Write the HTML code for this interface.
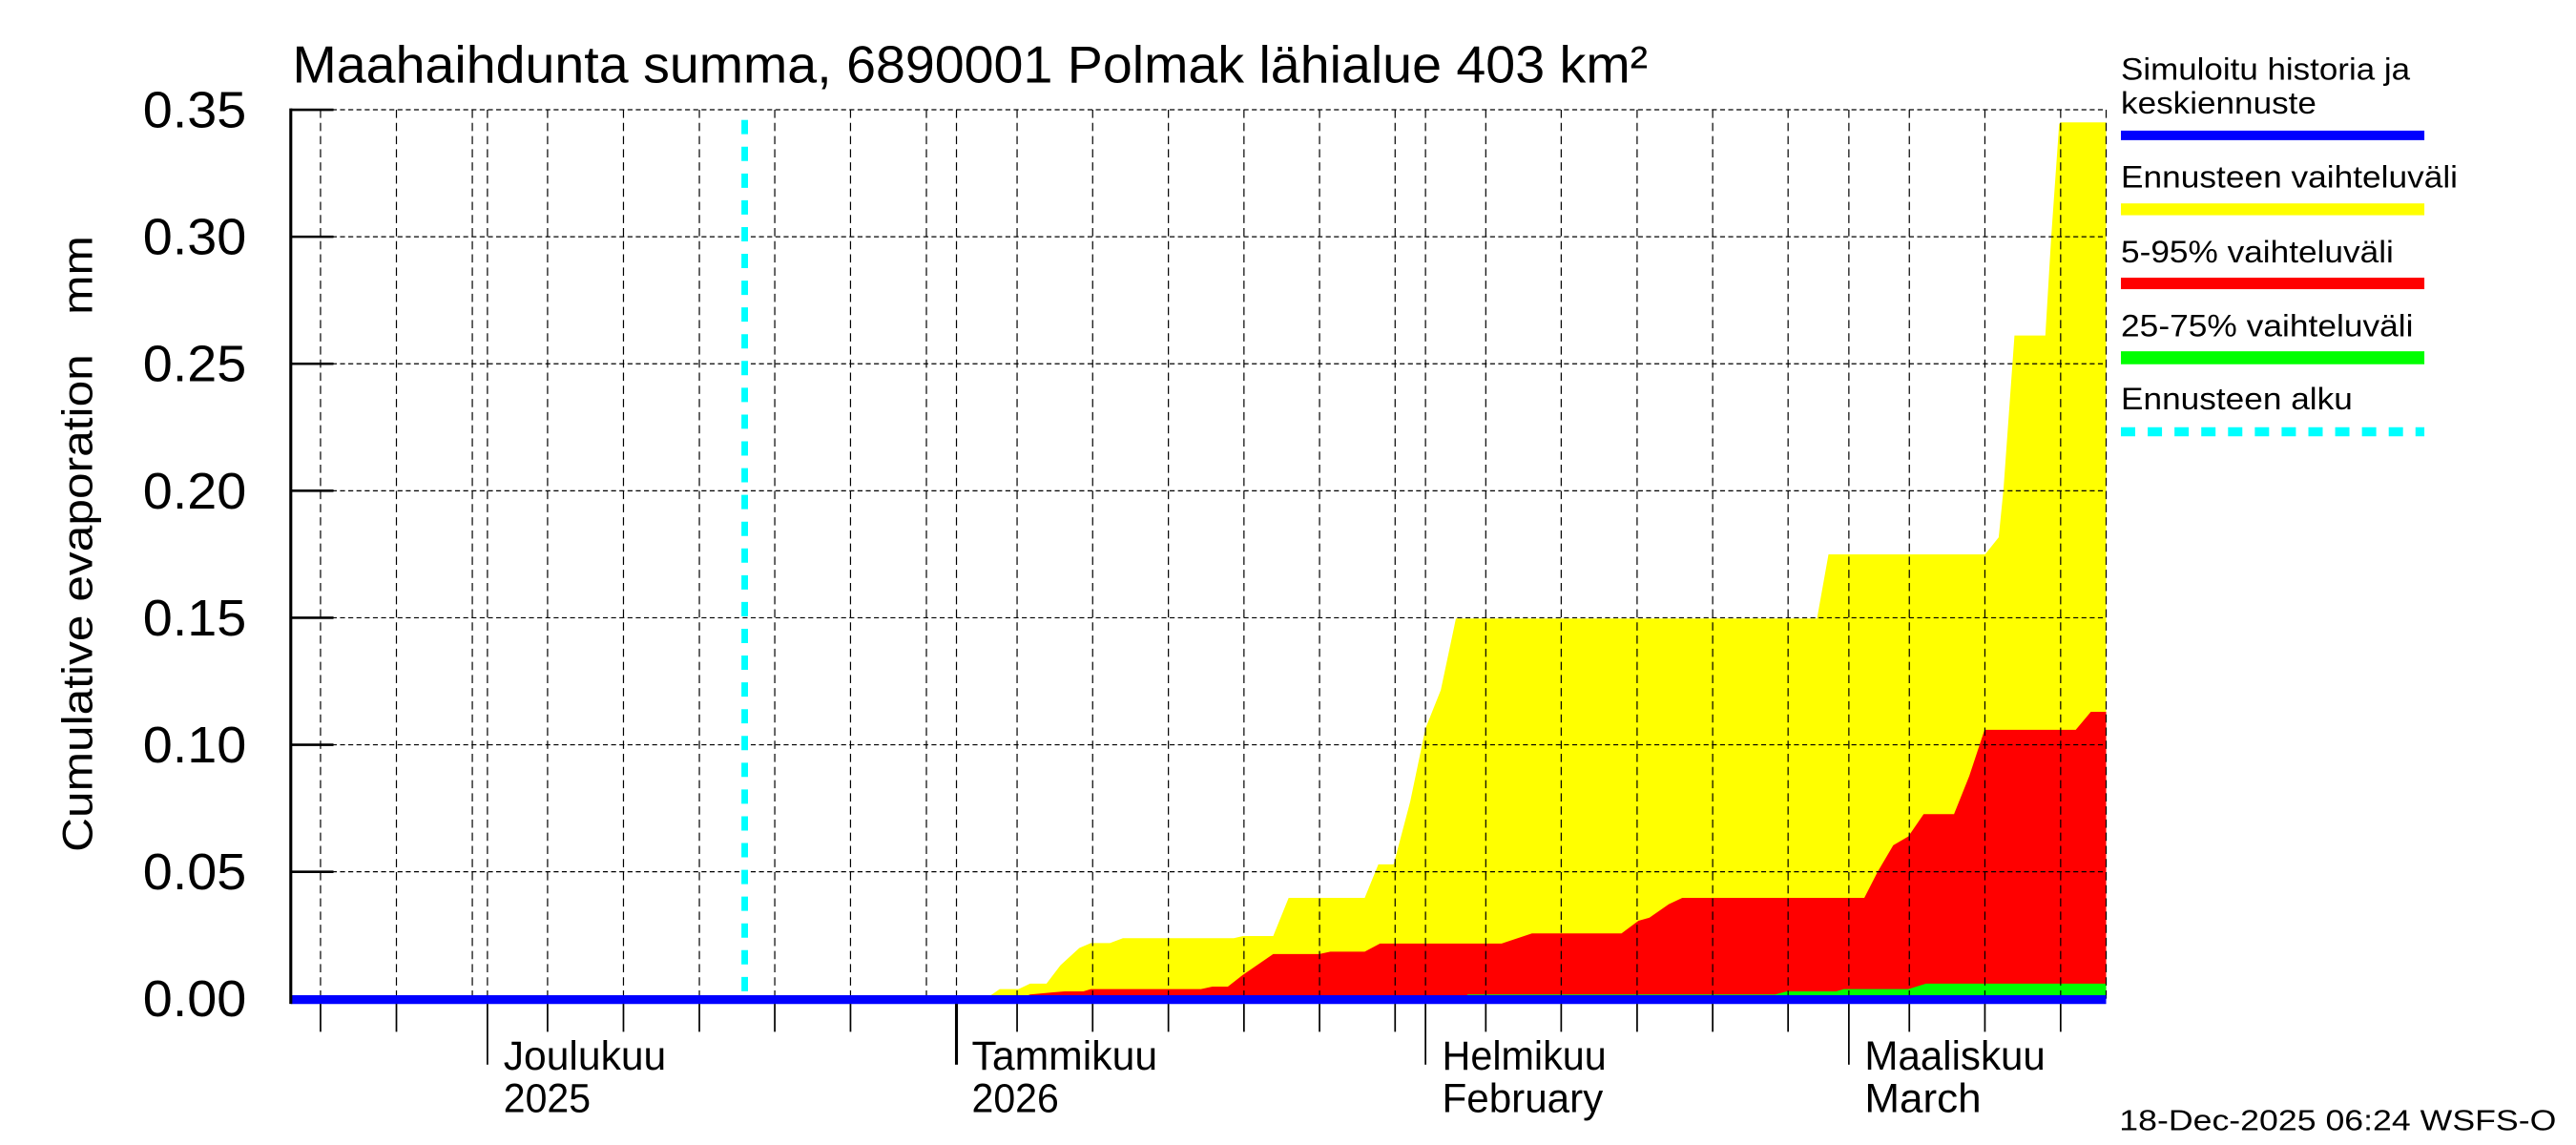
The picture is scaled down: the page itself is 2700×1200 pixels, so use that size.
<!DOCTYPE html>
<html><head><meta charset="utf-8"><style>
html,body{margin:0;padding:0;background:#fff;}
svg{display:block;}
text{font-family:"Liberation Sans",sans-serif;fill:#000;}
</style></head><body>
<svg width="2700" height="1200" viewBox="0 0 1568 696.89" preserveAspectRatio="none" xmlns="http://www.w3.org/2000/svg">
<rect width="1568" height="697" fill="#fff"/>
<polygon fill="#ffff00" points="600,608 602.9,605.9 608.5,602 620,602 627,598.7 637,598.7 645.5,587.5 657,577 664,574 675.6,574 683.5,571 751,571 756.6,569.7 775,569.7 784.4,546.5 830.7,546.5 839,526.1 848.3,526.1 858.4,487.8 867.7,443.3 877,420 886.2,376.5 1106,376.5 1113,337.4 1208.3,337.4 1216.6,327 1219.5,298 1225.3,216.8 1226.2,204.2 1245,204.2 1248.5,145.2 1253.4,75.5 1254.3,74.5 1282,74.5 1282,608"/>
<polygon fill="#ff0000" points="620,608 627,605.3 641,604 648,603.4 659.4,603.4 664,602 731,602 738,600.5 747.4,600.5 756.6,593.3 775,580.7 803,580.7 809.8,579.2 830.7,579.2 840,574.3 914,574.3 932.5,568.1 987,568.1 997.3,560.4 1004,558.5 1015.8,550.3 1024,546.5 1134.8,546.5 1143,530.4 1152.4,514.5 1161.6,509.1 1170.9,495.5 1189.4,495.5 1198.7,472.3 1208,444.2 1263.5,444.2 1272.7,433.2 1282,433.2 1282,608"/>
<polygon fill="#00ff00" points="893.2,608 893.2,605.3 1080.6,605.3 1087.6,603.4 1117.7,603.4 1122.3,602 1161.6,602 1172.3,598.7 1282,598.7 1282,608"/>
<g stroke="#000" stroke-width="0.7" stroke-dasharray="3,2" fill="none">
<line x1="177" y1="66.8" x2="1282" y2="66.8"/>
<line x1="177" y1="144.1" x2="1282" y2="144.1"/>
<line x1="177" y1="221.4" x2="1282" y2="221.4"/>
<line x1="177" y1="298.7" x2="1282" y2="298.7"/>
<line x1="177" y1="376" x2="1282" y2="376"/>
<line x1="177" y1="453.3" x2="1282" y2="453.3"/>
<line x1="177" y1="530.6" x2="1282" y2="530.6"/>
</g>
<g stroke="#000" stroke-width="0.7" stroke-dasharray="5,3" fill="none">
<line x1="195.1" y1="66.8" x2="195.1" y2="608"/>
<line x1="241.3" y1="66.8" x2="241.3" y2="608"/>
<line x1="287.5" y1="66.8" x2="287.5" y2="608"/>
<line x1="296.7" y1="66.8" x2="296.7" y2="608"/>
<line x1="333.3" y1="66.8" x2="333.3" y2="608"/>
<line x1="379.5" y1="66.8" x2="379.5" y2="608"/>
<line x1="425.7" y1="66.8" x2="425.7" y2="608"/>
<line x1="471.6" y1="66.8" x2="471.6" y2="608"/>
<line x1="517.7" y1="66.8" x2="517.7" y2="608"/>
<line x1="563.9" y1="66.8" x2="563.9" y2="608"/>
<line x1="582.2" y1="66.8" x2="582.2" y2="608"/>
<line x1="619.1" y1="66.8" x2="619.1" y2="608"/>
<line x1="665.1" y1="66.8" x2="665.1" y2="608"/>
<line x1="711.2" y1="66.8" x2="711.2" y2="608"/>
<line x1="757.2" y1="66.8" x2="757.2" y2="608"/>
<line x1="803.2" y1="66.8" x2="803.2" y2="608"/>
<line x1="849.2" y1="66.8" x2="849.2" y2="608"/>
<line x1="867.7" y1="66.8" x2="867.7" y2="608"/>
<line x1="904.4" y1="66.8" x2="904.4" y2="608"/>
<line x1="950.3" y1="66.8" x2="950.3" y2="608"/>
<line x1="996.5" y1="66.8" x2="996.5" y2="608"/>
<line x1="1042.5" y1="66.8" x2="1042.5" y2="608"/>
<line x1="1088.4" y1="66.8" x2="1088.4" y2="608"/>
<line x1="1125.4" y1="66.8" x2="1125.4" y2="608"/>
<line x1="1162.2" y1="66.8" x2="1162.2" y2="608"/>
<line x1="1208.2" y1="66.8" x2="1208.2" y2="608"/>
<line x1="1254.3" y1="66.8" x2="1254.3" y2="608"/>
<line x1="1282" y1="66.8" x2="1282" y2="608"/>
</g>
<line x1="453.3" y1="73" x2="453.3" y2="608" stroke="#00ffff" stroke-width="4" stroke-dasharray="8.7,7.6"/>
<line x1="177" y1="608.4" x2="1282" y2="608.4" stroke="#0000ff" stroke-width="5.4"/>
<line x1="177" y1="66" x2="177" y2="611" stroke="#000" stroke-width="1.8"/>
<g stroke="#000" stroke-width="1.5">
<line x1="177" y1="66.8" x2="203" y2="66.8"/>
<line x1="177" y1="144.1" x2="203" y2="144.1"/>
<line x1="177" y1="221.4" x2="203" y2="221.4"/>
<line x1="177" y1="298.7" x2="203" y2="298.7"/>
<line x1="177" y1="376" x2="203" y2="376"/>
<line x1="177" y1="453.3" x2="203" y2="453.3"/>
<line x1="177" y1="530.6" x2="203" y2="530.6"/>
</g>
<g id="ticks" stroke="#000" stroke-width="0.8"></g>
<g stroke="#000" stroke-width="1">
<line x1="195.1" y1="611" x2="195.1" y2="628"/>
<line x1="241.3" y1="611" x2="241.3" y2="628"/>
<line x1="333.3" y1="611" x2="333.3" y2="628"/>
<line x1="379.5" y1="611" x2="379.5" y2="628"/>
<line x1="425.7" y1="611" x2="425.7" y2="628"/>
<line x1="471.6" y1="611" x2="471.6" y2="628"/>
<line x1="517.7" y1="611" x2="517.7" y2="628"/>
<line x1="619.1" y1="611" x2="619.1" y2="628"/>
<line x1="665.1" y1="611" x2="665.1" y2="628"/>
<line x1="711.2" y1="611" x2="711.2" y2="628"/>
<line x1="757.2" y1="611" x2="757.2" y2="628"/>
<line x1="803.2" y1="611" x2="803.2" y2="628"/>
<line x1="849.2" y1="611" x2="849.2" y2="628"/>
<line x1="904.4" y1="611" x2="904.4" y2="628"/>
<line x1="950.3" y1="611" x2="950.3" y2="628"/>
<line x1="996.5" y1="611" x2="996.5" y2="628"/>
<line x1="1042.5" y1="611" x2="1042.5" y2="628"/>
<line x1="1088.4" y1="611" x2="1088.4" y2="628"/>
<line x1="1162.2" y1="611" x2="1162.2" y2="628"/>
<line x1="1208.2" y1="611" x2="1208.2" y2="628"/>
<line x1="1254.3" y1="611" x2="1254.3" y2="628"/>
<line x1="296.7" y1="611" x2="296.7" y2="648"/>
<line x1="867.7" y1="611" x2="867.7" y2="648"/>
<line x1="1125.4" y1="611" x2="1125.4" y2="648"/>
</g>
<line x1="582.2" y1="611" x2="582.2" y2="648" stroke="#000" stroke-width="1.8"/>
<script>
(function(){var g=document.getElementById('ticks'),s='';
for(var d=-13;d<=107;d++){var x=296.7+d*9.207;if(x<177||x>1282)continue;s+='<line x1="'+x+'" y1="611" x2="'+x+'" y2="616"/>';}
g.innerHTML=s;})();
</script>
<g font-size="31" text-anchor="end">
<text x="150" y="77.5" textLength="63" lengthAdjust="spacingAndGlyphs">0.35</text>
<text x="150" y="154.8" textLength="63" lengthAdjust="spacingAndGlyphs">0.30</text>
<text x="150" y="232.1" textLength="63" lengthAdjust="spacingAndGlyphs">0.25</text>
<text x="150" y="309.4" textLength="63" lengthAdjust="spacingAndGlyphs">0.20</text>
<text x="150" y="386.7" textLength="63" lengthAdjust="spacingAndGlyphs">0.15</text>
<text x="150" y="464" textLength="63" lengthAdjust="spacingAndGlyphs">0.10</text>
<text x="150" y="541.3" textLength="63" lengthAdjust="spacingAndGlyphs">0.05</text>
<text x="150" y="618.6" textLength="63" lengthAdjust="spacingAndGlyphs">0.00</text>
</g>
<text transform="translate(56,331) rotate(-90)" font-size="26" text-anchor="middle" textLength="375" lengthAdjust="spacingAndGlyphs">Cumulative evaporation&#160;&#160;&#160;mm</text>
<text x="178" y="50.3" font-size="32" textLength="825" lengthAdjust="spacingAndGlyphs">Maahaihdunta summa, 6890001 Polmak lähialue 403 km²</text>
<g font-size="25">
<text x="306.5" y="651" textLength="99" lengthAdjust="spacingAndGlyphs">Joulukuu</text>
<text x="306.5" y="677" textLength="53" lengthAdjust="spacingAndGlyphs">2025</text>
<text x="591.5" y="651" textLength="113" lengthAdjust="spacingAndGlyphs">Tammikuu</text>
<text x="591.5" y="677" textLength="53" lengthAdjust="spacingAndGlyphs">2026</text>
<text x="877.8" y="651" textLength="100" lengthAdjust="spacingAndGlyphs">Helmikuu</text>
<text x="877.8" y="677" textLength="98" lengthAdjust="spacingAndGlyphs">February</text>
<text x="1135" y="651" textLength="110" lengthAdjust="spacingAndGlyphs">Maaliskuu</text>
<text x="1135" y="677" textLength="71" lengthAdjust="spacingAndGlyphs">March</text>
</g>
<g font-size="19">
<text x="1291" y="48.4" textLength="176" lengthAdjust="spacingAndGlyphs">Simuloitu historia ja</text>
<text x="1291" y="69.1" textLength="119" lengthAdjust="spacingAndGlyphs">keskiennuste</text>
<text x="1291" y="114.2" textLength="205" lengthAdjust="spacingAndGlyphs">Ennusteen vaihteluväli</text>
<text x="1291" y="159.7" textLength="166" lengthAdjust="spacingAndGlyphs">5-95% vaihteluväli</text>
<text x="1291" y="204.8" textLength="178" lengthAdjust="spacingAndGlyphs">25-75% vaihteluväli</text>
<text x="1291" y="249.2" textLength="141" lengthAdjust="spacingAndGlyphs">Ennusteen alku</text>
</g>
<rect x="1291" y="79.5" width="184.7" height="5.8" fill="#0000ff"/>
<rect x="1291" y="123.8" width="184.7" height="7.2" fill="#ffff00"/>
<rect x="1291" y="169" width="184.7" height="7" fill="#ff0000"/>
<rect x="1291" y="213.8" width="184.7" height="7.9" fill="#00ff00"/>
<line x1="1291" y1="262.8" x2="1475.7" y2="262.8" stroke="#00ffff" stroke-width="5.5" stroke-dasharray="8.7,7.6"/>
<text x="1290" y="688" font-size="18" textLength="266" lengthAdjust="spacingAndGlyphs">18-Dec-2025 06:24 WSFS-O</text>
</svg>
</body></html>
